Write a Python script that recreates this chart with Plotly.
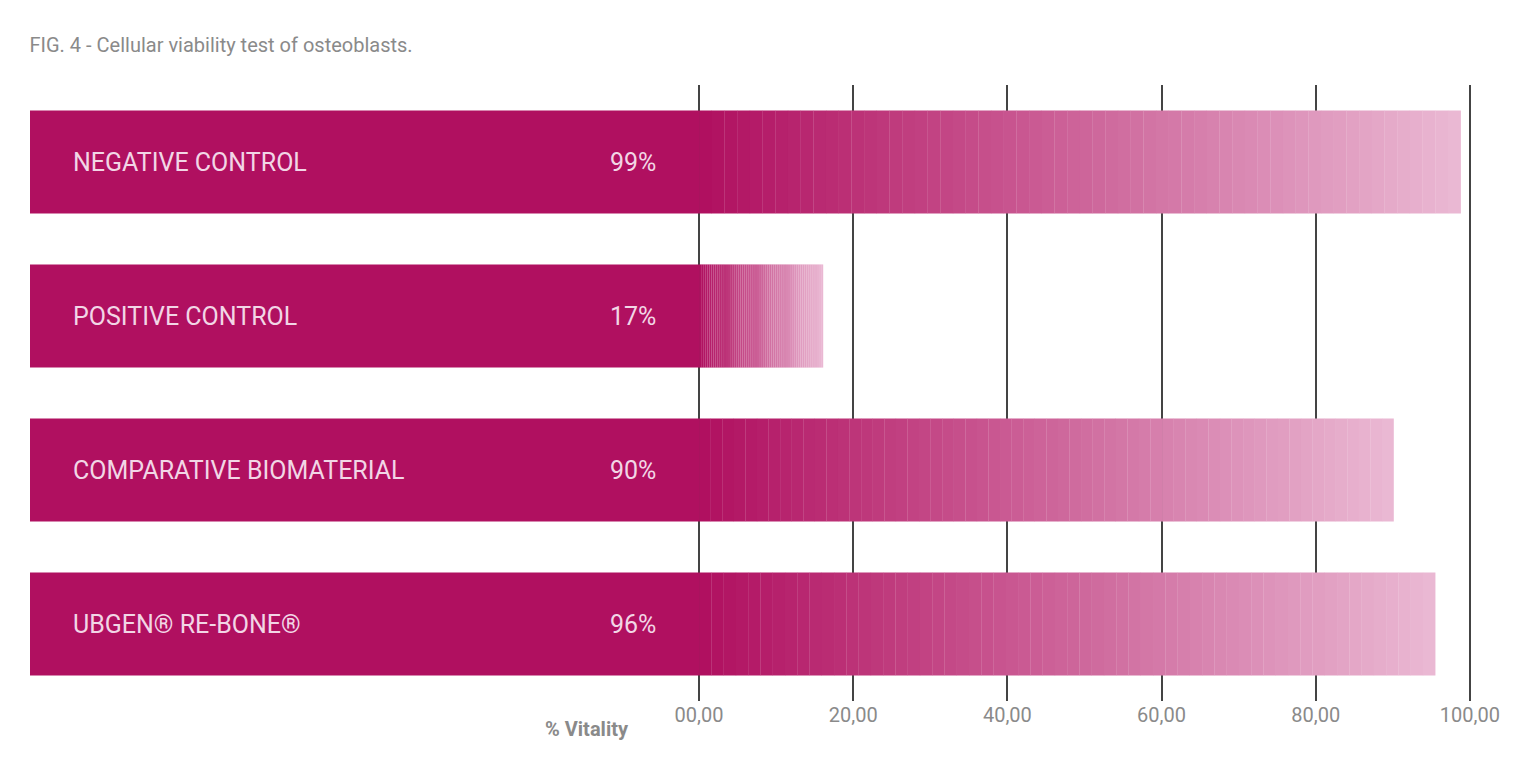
# Import Libraries
import plotly.graph_objects as go

# Data
groups = ['NEGATIVE CONTROL', 'POSITIVE CONTROL', 'COMPARATIVE BIOMATERIAL', 'UBGEN® RE-BONE®']
vitality = [98.8, 16.1, 90.1, 95.5]
vitality_labels = ['99%', '17%', '90%', '96%']
tick_values = [0, 20, 40, 60, 80, 100]
tick_labels = ['00,00', '20,00', '40,00', '60,00', '80,00', '100,00']

# Colours of the gradient (solid magenta -> light pink)
start_rgb = (176, 16, 96)
end_rgb = (234, 184, 211)
n_steps = 60
left_edge = -86.8
rows = list(range(len(groups)))

fig = go.Figure()

# Solid part of every bar, left of zero
fig.add_trace(go.Bar(y=rows, x=[-left_edge] * len(groups), base=[left_edge] * len(groups), orientation='h',
                     marker=dict(color='rgb(176,16,96)', line=dict(width=0)), hoverinfo='skip'))

# Gradient part, drawn as thin slices of each bar
for i in range(n_steps):
    t = i / (n_steps - 1)
    rgb = [round(s + (e - s) * t) for s, e in zip(start_rgb, end_rgb)]
    fig.add_trace(go.Bar(y=rows, x=[v / n_steps * 1.02 for v in vitality], base=[v * i / n_steps for v in vitality],
                         orientation='h', marker=dict(color=f'rgb({rgb[0]},{rgb[1]},{rgb[2]})', line=dict(width=0)),
                         hoverinfo='skip'))

# Labels inside the bars
for row, name, pct in zip(rows, groups, vitality_labels):
    fig.add_annotation(x=-81.5, y=row, text=name, showarrow=False, xanchor='left',
                       font=dict(size=25, color='#F2D6E6', family='Liberation Sans Narrow, Roboto'))
    fig.add_annotation(x=-5.3, y=row, text=pct, showarrow=False, xanchor='right',
                       font=dict(size=25, color='#F2D6E6', family='Liberation Sans Narrow, Roboto'))

fig.add_annotation(x=-8.8, y=3.5, yshift=-28, text='<b>% Vitality</b>', showarrow=False, xanchor='right', yanchor='middle',
                   font=dict(size=20, color='#8a8a8a', family='Liberation Sans Narrow, Roboto'))

fig.update_layout(
    title=dict(text='FIG. 4 - Cellular viability test of osteoblasts.', x=0.014, xanchor='left', y=0.96,
               font=dict(size=20, color='#8a8a8a', family='Liberation Sans Narrow, Roboto')),
    barmode='overlay', bargap=0.33, showlegend=False,
    plot_bgcolor='white', paper_bgcolor='white',
    width=1536, height=758, margin=dict(l=22, r=51, t=77, b=65),
    xaxis=dict(range=[left_edge, 103], tickvals=tick_values, ticktext=tick_labels, showgrid=True,
               gridcolor='#444444', gridwidth=1.5, zeroline=False, layer='above traces',
               tickfont=dict(size=20, color='#8a8a8a', family='Liberation Sans Narrow, Roboto')),
    yaxis=dict(range=[3.5, -0.5], showticklabels=False, showgrid=False, zeroline=False),
)

fig.write_html('out.html')
